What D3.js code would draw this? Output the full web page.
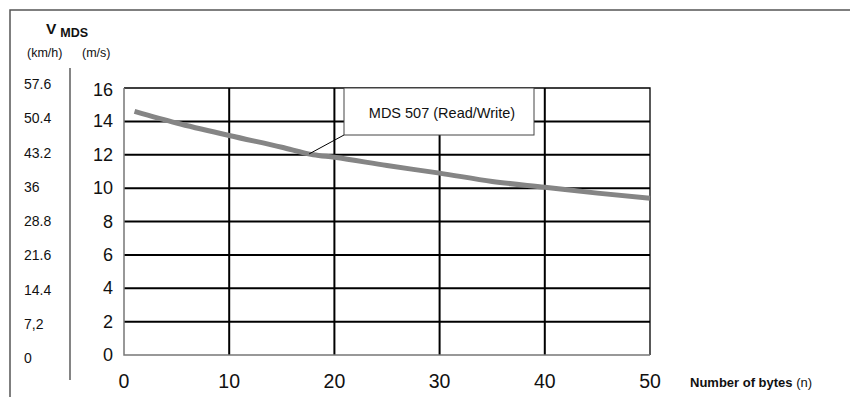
<!DOCTYPE html>
<html>
<head>
<meta charset="utf-8">
<script src="https://cdn.jsdelivr.net/npm/d3@7/dist/d3.min.js"></script>
<style>
  body { margin: 0; background: #fff; }
  svg text { font-family: "Liberation Sans", Arial, Helvetica, sans-serif; fill: #111; }
</style>
</head>
<body>
<div id="chart"></div>
<script>
// data
var bytes = [1, 5, 10, 15, 18, 20, 25, 30, 35, 40, 45, 50];
var speedMs = [14.6, 13.9, 13.15, 12.45, 12.0, 11.85, 11.35, 10.9, 10.4, 10.05, 9.7, 9.4];
var msTicks = [0, 2, 4, 6, 8, 10, 12, 14, 16];
var kmhLabels = ['0', '7,2', '14.4', '21.6', '28.8', '36', '43.2', '50.4', '57.6'];
var xTicks = [0, 10, 20, 30, 40, 50];
var seriesName = 'MDS 507 (Read/Write)';

var width = 850, height = 397;
var plot = {left: 124, right: 650, top: 88, bottom: 355};

var svg = d3.select('#chart').append('svg')
  .attr('width', width).attr('height', height);

var x = d3.scaleLinear().domain([0, 50]).range([plot.left, plot.right]);
var y = d3.scaleLinear().domain([0, 16]).range([plot.bottom, plot.top]);
// km/h labels sit on their own, slightly wider spacing
var yKmh = d3.scalePoint().domain(kmhLabels).range([363, 89]);

// outer frame (left + top only)
svg.append('path')
  .attr('d', 'M10,397 V10 H850')
  .attr('fill', 'none').attr('stroke', '#555').attr('stroke-width', 1.5);

// separator between km/h and m/s scales
svg.append('line')
  .attr('x1', 70).attr('x2', 70).attr('y1', 68).attr('y2', 380)
  .attr('stroke', '#333').attr('stroke-width', 1.2);

// grid lines
var grid = svg.append('g');
grid.selectAll('line.h')
  .data(msTicks.filter(function (d) { return d > 0 && d < 16; }))
  .enter().append('line')
  .attr('x1', plot.left).attr('x2', plot.right)
  .attr('y1', function (d) { return y(d); }).attr('y2', function (d) { return y(d); })
  .attr('stroke', '#000').attr('stroke-width', 2);
grid.selectAll('line.v')
  .data(xTicks.filter(function (d) { return d > 0 && d < 50; }))
  .enter().append('line')
  .attr('x1', function (d) { return x(d); }).attr('x2', function (d) { return x(d); })
  .attr('y1', plot.top).attr('y2', plot.bottom)
  .attr('stroke', '#000').attr('stroke-width', 2);

// plot border: top/right black, left/bottom gray
svg.append('path')
  .attr('d', 'M' + plot.left + ',' + plot.top + ' H' + plot.right + ' V' + plot.bottom)
  .attr('fill', 'none').attr('stroke', '#000').attr('stroke-width', 1.3);
svg.append('path')
  .attr('d', 'M' + plot.left + ',' + plot.top + ' V' + plot.bottom + ' H' + plot.right)
  .attr('fill', 'none').attr('stroke', '#777').attr('stroke-width', 1.5);

// curve
var line = d3.line()
  .x(function (d, i) { return x(bytes[i]); })
  .y(function (d) { return y(d); })
  .curve(d3.curveMonotoneX);
svg.append('path')
  .datum(speedMs)
  .attr('d', line)
  .attr('fill', 'none').attr('stroke', '#858585').attr('stroke-width', 5);

// series label box with leader line
svg.append('line')
  .attr('x1', x(17.6)).attr('y1', y(12.05))
  .attr('x2', 344).attr('y2', 135)
  .attr('stroke', '#000').attr('stroke-width', 1);
svg.append('rect')
  .attr('x', 344).attr('y', 88).attr('width', 190).attr('height', 47)
  .attr('fill', '#fff').attr('stroke', '#444').attr('stroke-width', 1);
svg.append('text')
  .attr('x', 442).attr('y', 118)
  .attr('text-anchor', 'middle').attr('font-size', 14.5)
  .text(seriesName);

// m/s tick labels
svg.selectAll('text.ms')
  .data(msTicks).enter().append('text')
  .attr('x', 113).attr('y', function (d) { return y(d) + (d === 16 ? 8 : 6); })
  .attr('text-anchor', 'end').attr('font-size', 18)
  .text(function (d) { return d; });

// km/h labels
svg.selectAll('text.kmh')
  .data(kmhLabels).enter().append('text')
  .attr('x', 24).attr('y', function (d) { return yKmh(d); })
  .attr('font-size', 14)
  .text(function (d) { return d; });

// x tick labels
svg.selectAll('text.x')
  .data(xTicks).enter().append('text')
  .attr('x', function (d) { return x(d); }).attr('y', 388)
  .attr('text-anchor', 'middle').attr('font-size', 19.5)
  .text(function (d) { return d; });

// x axis title
var xt = svg.append('text').attr('x', 690).attr('y', 387).attr('font-size', 13);
xt.append('tspan').attr('font-weight', 'bold').text('Number of bytes ');
xt.append('tspan').text('(n)');

// y axis title
var yt = svg.append('text').attr('x', 46).attr('y', 34).attr('font-weight', 'bold');
yt.append('tspan').attr('font-size', 15.5).text('V');
yt.append('tspan').attr('font-size', 12.5).attr('dx', 4).attr('dy', 3).text('MDS');
svg.append('text').attr('x', 27).attr('y', 57).attr('font-size', 12.5).text('(km/h)');
svg.append('text').attr('x', 82).attr('y', 57).attr('font-size', 12.5).text('(m/s)');
</script>
</body>
</html>
